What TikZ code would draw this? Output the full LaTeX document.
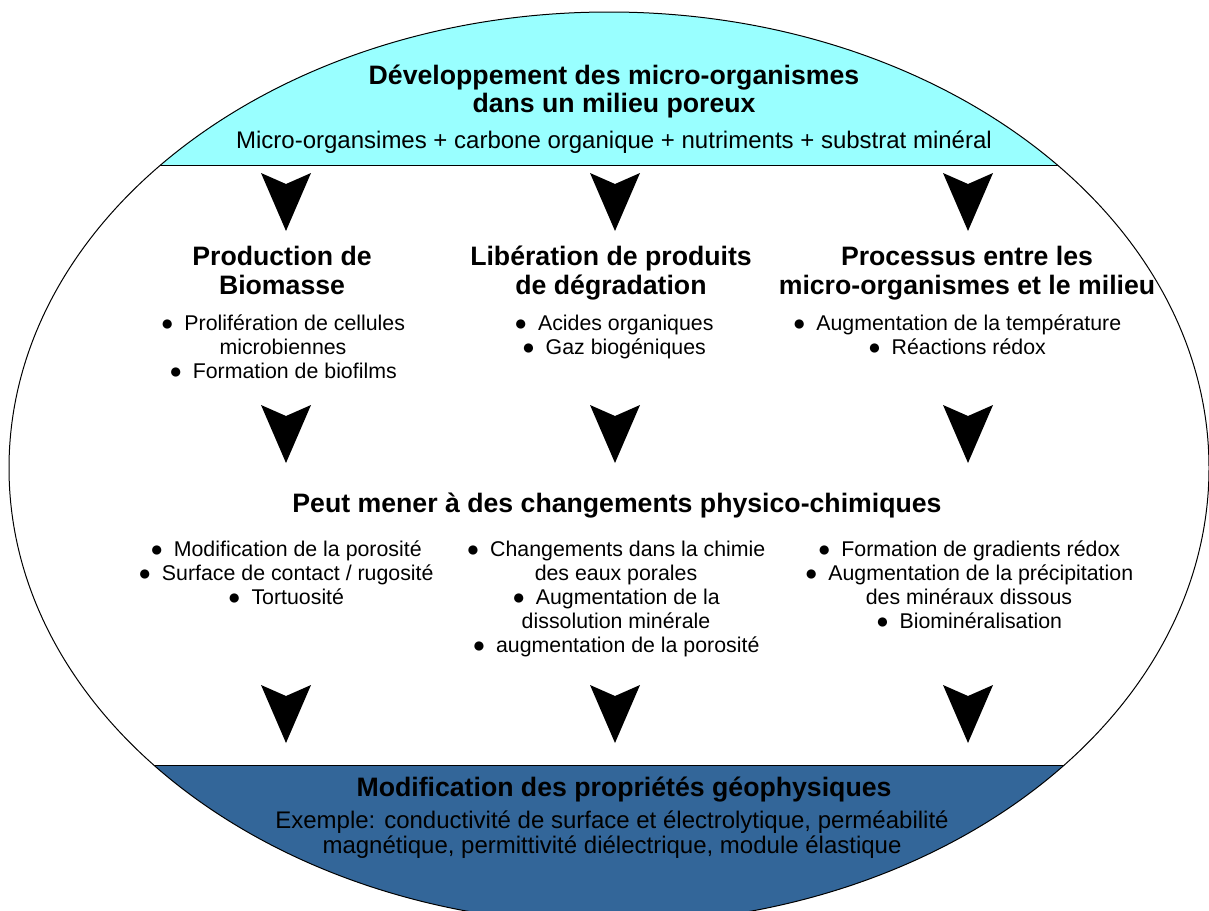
\documentclass[tikz,border=0pt]{standalone}
\usepackage{fontspec}
\setmainfont{Liberation Sans}
\usetikzlibrary{positioning}
\definecolor{topcyan}{HTML}{99FFFF}
\definecolor{bottomblue}{HTML}{336699}
\newcommand{\bul}{●\hspace{0.5em}}

\begin{document}
\begin{tikzpicture}[
    x=0.75pt, y=-0.75pt,
    heading/.style={align=center, anchor=base, font=\fontsize{20}{21.75}\selectfont\bfseries},
    bullets/.style={align=center, anchor=base, font=\fontsize{16}{18}\selectfont},
    lead/.style={align=center, anchor=base, font=\fontsize{18}{18.75}\selectfont},
    downarrow/.pic={\fill (-25,0) -- (0,11) -- (25,0) -- (0,58) -- cycle;}
]
    \useasboundingbox (0,0) rectangle (1209,910);

    % Ellipse with its two coloured caps
    \begin{scope}
        \clip (609,468) ellipse [x radius=600, y radius=456];
        \fill[topcyan] (0,0) rectangle (1209,165);
        \fill[bottomblue] (0,765) rectangle (1209,940);
        \draw[line width=0.75pt] (0,165) -- (1209,165);
        \draw[line width=0.75pt] (0,765) -- (1209,765);
    \end{scope}
    \draw[line width=0.75pt] (609,468) ellipse [x radius=600, y radius=456];

    % Top (base anchor = last line)
    \node[heading, font=\fontsize{20}{21}\selectfont\bfseries] (title) at (614,112.5)
        {Développement des micro-organismes\\dans un milieu poreux};
    \node[lead] (intro) at (614,148.5)
        {Micro-organsimes + carbone organique + nutriments + substrat minéral};

    % Three processes
    \node[heading] (prod) at (282,294.5) {Production de\\Biomasse};
    \node[heading] (lib) at (611,294.5) {Libération de produits\\de dégradation};
    \node[heading] (proc) at (967,294.5) {Processus entre les\\micro-organismes et le milieu};

    \node[bullets] (prodlist) at (283,378.5)
        {\bul Prolifération de cellules\\microbiennes\\\bul Formation de biofilms};
    \node[bullets] (liblist) at (614,354.5)
        {\bul Acides organiques\\\bul Gaz biogéniques};
    \node[bullets] (proclist) at (957,354.5)
        {\bul Augmentation de la température\\\bul Réactions rédox};

    % Changes
    \node[heading] (changes) at (617,512.5) {Peut mener à des changements physico-chimiques};

    \node[bullets] (porelist) at (286,604.5)
        {\bul Modification de la porosité\\\bul Surface de contact / rugosité\\\bul Tortuosité};
    \node[bullets] (chemlist) at (616,652.5)
        {\bul Changements dans la chimie\\des eaux porales\\\bul Augmentation de la\\dissolution minérale\\\bul augmentation de la porosité};
    \node[bullets] (redoxlist) at (969,628.5)
        {\bul Formation de gradients rédox\\\bul Augmentation de la précipitation\\des minéraux dissous\\\bul Biominéralisation};

    % Bottom
    \node[heading] (geo) at (624,796.5) {Modification des propriétés géophysiques};
    \node[lead] (geolist) at (612,853.5)
        {Exemple: conductivité de surface et électrolytique, perméabilité\\magnétique, permittivité diélectrique, module élastique};

    % Arrows
    \foreach \ay in {173,405,685}
        \foreach \ax in {286,615,968}
            \pic at (\ax,\ay) {downarrow};
\end{tikzpicture}
\end{document}
